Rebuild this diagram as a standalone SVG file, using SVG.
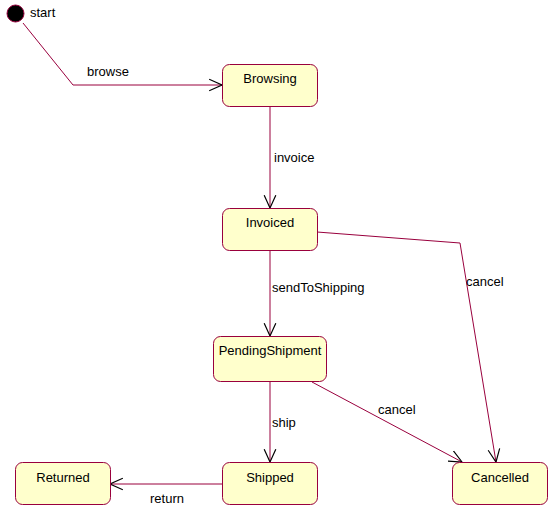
<svg xmlns="http://www.w3.org/2000/svg" width="557" height="511" viewBox="0 0 557 511">
<style>
.node rect{fill:#FFFFCC;stroke:#99003D;stroke-width:1}
.node text,.lbl{font-family:"Liberation Sans",Arial,sans-serif;font-size:13px;fill:#000}
.node text{text-anchor:middle}
.edge{fill:none;stroke:#99003D;stroke-width:1;marker-end:url(#arr)}
</style>
<defs>
<marker id="arr" markerUnits="userSpaceOnUse" markerWidth="14" markerHeight="14" viewBox="0 0 12 12" refX="11" refY="6" orient="auto">
<path d="M0,1 L11,6 L0,11" fill="none" stroke="#000" stroke-width="1"/>
</marker>
</defs>
<rect width="557" height="511" fill="#fff"/>
<g id="connectors">
<path class="edge" d="M23,23 L73,85 L222,85"/>
<path class="edge" d="M270,106 L270,208"/>
<path class="edge" d="M270,250 L270,336"/>
<path class="edge" d="M317,232 L460,243 L496,462"/>
<path class="edge" d="M312,382 L462,462"/>
<path class="edge" d="M270,382 L270,462"/>
<path class="edge" d="M222,484 L110,484"/>
<text class="lbl" x="87" y="76">browse</text>
<text class="lbl" x="274" y="162">invoice</text>
<text class="lbl" x="272" y="292">sendToShipping</text>
<text class="lbl" x="466" y="286">cancel</text>
<text class="lbl" x="378" y="414">cancel</text>
<text class="lbl" x="272" y="427">ship</text>
<text class="lbl" x="150" y="503">return</text>
</g>
<g id="start">
<circle cx="15.5" cy="13.5" r="8.5" fill="#000" stroke="#99003D" stroke-width="1"/>
<text class="lbl" x="30" y="17">start</text>
</g>
<g id="Browsing" class="node"><rect x="222.5" y="64.5" width="95" height="42" rx="7"/><text x="270" y="83">Browsing</text></g>
<g id="Invoiced" class="node"><rect x="222.5" y="208.5" width="95" height="42" rx="7"/><text x="270" y="227">Invoiced</text></g>
<g id="PendingShipment" class="node"><rect x="213.5" y="336.5" width="113" height="45" rx="7"/><text x="270" y="355">PendingShipment</text></g>
<g id="Returned" class="node"><rect x="15.5" y="462.5" width="95" height="42" rx="7"/><text x="63" y="482">Returned</text></g>
<g id="Shipped" class="node"><rect x="222.5" y="462.5" width="95" height="42" rx="7"/><text x="270" y="482">Shipped</text></g>
<g id="Cancelled" class="node"><rect x="452.5" y="462.5" width="95" height="42" rx="7"/><text x="500" y="482">Cancelled</text></g>
</svg>
